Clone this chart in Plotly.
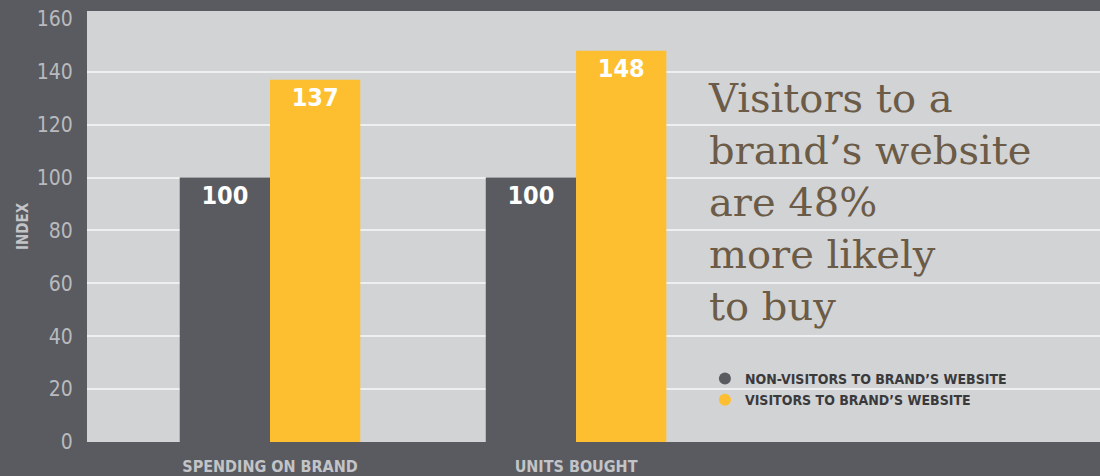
import plotly.graph_objects as go

categories = ["SPENDING ON BRAND", "UNITS BOUGHT"]
non_visitors = [100, 100]
visitors = [137, 148]
series_names = ["NON-VISITORS TO BRAND’S WEBSITE", "VISITORS TO BRAND’S WEBSITE"]
y_ticks = [0, 20, 40, 60, 80, 100, 120, 140, 160]
grid_ticks = [20, 40, 60, 80, 100, 120, 140]
headline = "Visitors to a<br>brand’s website<br>are 48%<br>more likely<br>to buy"

dark = "#595b60"
yellow = "#fdbf2f"
light_text = "#c3c4c7"
cond = "DejaVu Sans Condensed, Roboto, sans-serif"

fig = go.Figure()
for name, vals, col in [(series_names[0], non_visitors, dark), (series_names[1], visitors, yellow)]:
    fig.add_trace(go.Bar(
        x=categories, y=vals, name=name, marker_color=col, marker_line_width=0,
        text=vals, textposition="inside", insidetextanchor="end",
        textfont=dict(family=cond, size=25, color="white", weight="bold"),
        showlegend=False,
    ))
    # circle markers for the legend
    fig.add_trace(go.Scatter(
        x=[None], y=[None], mode="markers", name=name,
        marker=dict(symbol="circle", size=16, color=col),
    ))

fig.update_layout(
    width=1100, height=476,
    margin=dict(l=87, r=0, t=11, b=32),
    paper_bgcolor=dark, plot_bgcolor="#d2d3d5",
    barmode="group", bargap=0.41, bargroupgap=0,
    xaxis=dict(
        range=[-0.598, 2.712], showgrid=False, zeroline=False,
        tickfont=dict(family=cond, size=16, color=light_text, weight="bold"),
        ticks="outside", ticklen=10, tickcolor=dark,
    ),
    yaxis=dict(
        range=[0, 163], tickvals=y_ticks, showgrid=False, zeroline=False,
        tickfont=dict(family=cond, size=21, color="#b9babd"),
        ticks="outside", ticklen=9, tickcolor=dark,
        title=dict(text="INDEX", font=dict(family=cond, size=15, color=light_text, weight="bold"), standoff=4),
        minor=dict(tickmode="array", tickvals=grid_ticks, showgrid=True, gridcolor="#eeeff0", gridwidth=2, ticklen=0),
    ),
    legend=dict(
        x=0.61, y=0.122, xanchor="left", yanchor="middle", bgcolor="rgba(0,0,0,0)",
        font=dict(family=cond, size=14, color="#3a3a3c", weight="bold"),
        itemsizing="constant", tracegroupgap=0,
    ),
    annotations=[dict(
        text=headline, xref="paper", yref="paper", x=0.611, y=0.855,
        xanchor="left", yanchor="top", align="left", showarrow=False,
        font=dict(family="DejaVu Serif, serif", size=40, color="#6b5b47"),
    )],
)

# drop the browser's default page margin so the figure fills the window
fig.write_html("out.html", config={"displayModeBar": False},
               post_script="document.body.style.margin='0';")
